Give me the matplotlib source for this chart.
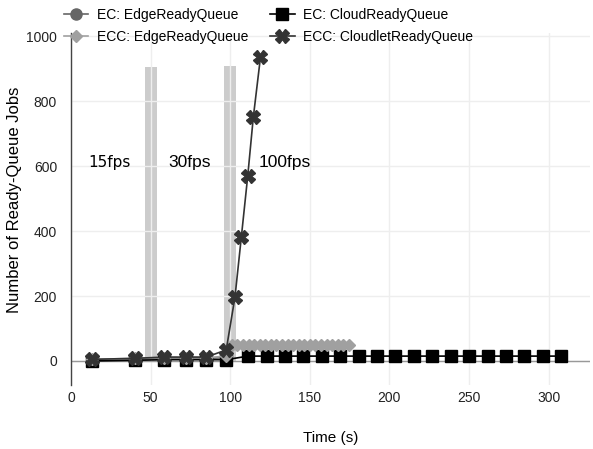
import matplotlib
matplotlib.use("Agg")
import matplotlib.pyplot as plt

plt.rcParams["font.family"] = ["Liberation Sans", "DejaVu Sans"]

# series
ec_edge_t = [13, 40, 58.5, 72, 85, 97.5]
ec_edge_y = [3, 5, 8, 8, 8, 10]

ec_cloud_t = [13, 40, 58.5, 72, 85, 97.5,
              111.3, 122.9, 134.4, 146, 157.6, 169.1, 180.7, 192.3, 203.8,
              215.4, 227, 238.5, 250.1, 261.7, 273.3, 284.8, 296.4, 308]
ec_cloud_y = [0, 2, 4, 4, 4, 4,
              15, 15, 15, 15, 15, 15, 15, 15, 15,
              15, 15, 15, 15, 15, 15, 15, 15, 15]

ecc_edge_t = [13, 40, 58.5, 72, 85, 97.5,
              101, 104.5, 108, 111.5, 115, 118.5, 122, 125.5, 129, 132.5, 136,
              139.5, 143, 146.5, 150, 153.5, 157, 160.5, 164, 167.5, 171, 174.5]
ecc_edge_y = [5, 8, 10, 10, 10, 15,
              50, 50, 50, 50, 50, 50, 50, 50, 50, 50, 50,
              50, 50, 50, 50, 50, 50, 50, 50, 50, 50, 50]

ecc_cloudlet_t = [13, 40, 58.5, 72, 85, 97.5, 103, 107, 111, 114.5, 119]
ecc_cloudlet_y = [5, 8, 12, 12, 12, 34, 197, 382, 569, 750, 935]

switch_t = [50, 100]
switch_h = [905, 908]

fps_labels = ["15fps", "30fps", "100fps"]
fps_x = [10.7, 61, 117.6]
fps_y = 610

fig = plt.figure(figsize=(5.93, 4.49), dpi=100)
ax = fig.add_axes([71 / 593, 64 / 449, 519 / 593, 352 / 449])

ax.bar(switch_t, switch_h, width=7.5, color="#cccccc", zorder=0.4)

ax.set_axisbelow("line")
ax.grid(True, color="#eeeeee", linewidth=1.0)

ax.axhline(0, color="#999999", linewidth=1.0, zorder=1.6)

h1, = ax.plot(ec_edge_t, ec_edge_y, color="#666666", marker="o",
              markersize=8, linewidth=1.2, label="EC: EdgeReadyQueue", zorder=2)
h2, = ax.plot(ec_cloud_t, ec_cloud_y, color="black", marker="s",
              markersize=8, linewidth=1.2, label="EC: CloudReadyQueue", zorder=2.1)
h3, = ax.plot(ecc_edge_t, ecc_edge_y, color="#a0a0a0", marker="D",
              markersize=6, linewidth=1.2, label="ECC: EdgeReadyQueue", zorder=2.2)
h4, = ax.plot(ecc_cloudlet_t, ecc_cloudlet_y, color="#333333", marker="X",
              markersize=10, linewidth=1.2, label="ECC: CloudletReadyQueue",
              zorder=2.3)

for label, x in zip(fps_labels, fps_x):
    if label == "15fps":
        ax.text(x, fps_y, label, fontsize=11, ha="left", va="center",
                family=["DejaVu Sans"], zorder=3)
    else:
        ax.text(x, fps_y, label, fontsize=12.5, ha="left", va="center", zorder=3)

ax.set_xlim(0, 326)
ax.set_ylim(-74, 1010)
ax.set_xticks([0, 50, 100, 150, 200, 250, 300])
ax.set_yticks([0, 200, 400, 600, 800, 1000])
ax.tick_params(axis="both", length=0, labelsize=10, colors="#222222")
ax.tick_params(axis="x", pad=4)
ax.tick_params(axis="y", pad=10)

for side in ["top", "right", "bottom"]:
    ax.spines[side].set_visible(False)
ax.spines["left"].set_color("#444444")
ax.spines["left"].set_linewidth(1.0)

ax.set_xlabel("Time (s)", fontsize=11, labelpad=19)
ax.set_ylabel("Number of Ready-Queue Jobs", fontsize=12, va="center")
ax.yaxis.set_label_coords(-0.108, 0.526)

fig.legend(handles=[h1, h3, h2, h4], ncol=2, loc="upper left",
           bbox_to_anchor=(64 / 593, 1 - 8 / 449), frameon=False,
           fontsize=10, borderaxespad=0, borderpad=0, handlelength=1.75,
           handletextpad=0.6, columnspacing=1.6, labelspacing=0.55)

fig.savefig("out.png", dpi=100)
